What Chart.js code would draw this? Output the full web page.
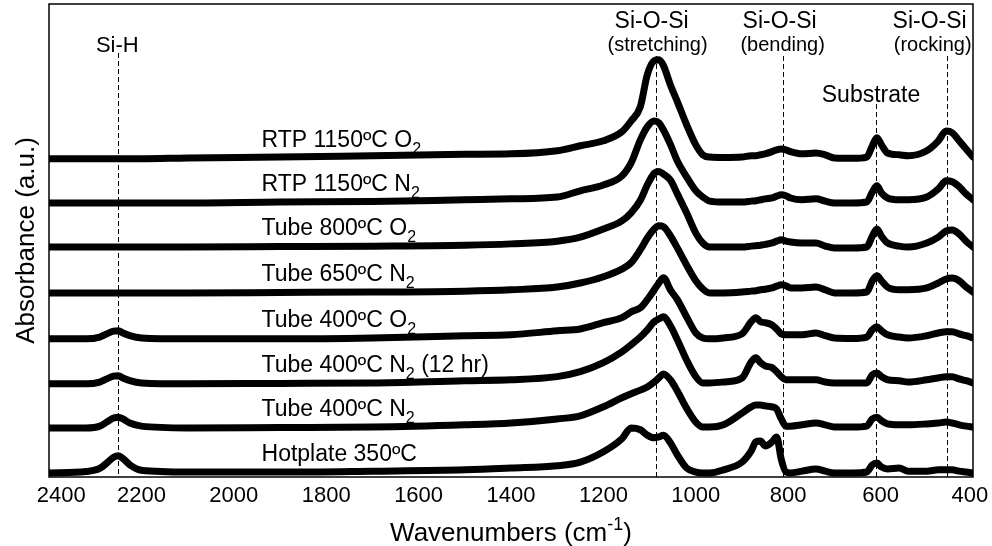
<!DOCTYPE html>
<html>
<head>
<meta charset="utf-8">
<title>FTIR spectra</title>
<script src="https://cdn.jsdelivr.net/npm/chart.js@4.4.1/dist/chart.umd.min.js"></script>
<style>
  html, body { margin: 0; padding: 0; background: #fff; }
  #wrap { width: 992px; height: 546px; }
</style>
</head>
<body>
<div id="wrap"><canvas id="ftirChart" width="992" height="546"></canvas></div>
<script>
//////////////////////////////
// Data
//////////////////////////////

const wavenumbers = [
  2400, 2320, 2290, 2275, 2260, 2250, 2240, 2225, 2200, 2100,
  1900, 1700, 1500, 1400, 1300, 1250, 1200, 1160, 1140, 1120,
  1105, 1090, 1080, 1070, 1055, 1040, 1020, 1000, 985, 970,
  940, 900, 880, 870, 860, 850, 835, 825, 815, 805,
  795, 770, 740, 720, 700, 660, 630, 618, 608, 598,
  585, 560, 540, 500, 475, 458, 445, 430, 415, 400
];

const rtp1150O2 = [
  0, 0, 0, 0, 0, 0, 0, 0, 0, 0.02,
  0.04, 0.07, 0.1, 0.11, 0.18, 0.29, 0.4, 0.6, 0.84, 1.16,
  1.87, 2.18, 2.2, 2.07, 1.64, 1.27, 0.76, 0.31, 0.09, 0.04,
  0.03, 0.04, 0.07, 0.07, 0.09, 0.11, 0.16, 0.2, 0.22, 0.2,
  0.16, 0.11, 0.13, 0.09, 0.02, 0.01, 0.04, 0.29, 0.47, 0.31,
  0.13, 0.09, 0.07, 0.18, 0.4, 0.62, 0.58, 0.4, 0.22, 0.04
];

const rtp1150N2 = [
  0, 0, 0, 0, 0, 0, 0, 0, 0, 0,
  0.02, 0.03, 0.07, 0.09, 0.13, 0.27, 0.4, 0.6, 0.89, 1.4,
  1.69, 1.82, 1.78, 1.62, 1.3, 0.93, 0.58, 0.27, 0.13, 0.04,
  0.02, 0.02, 0.04, 0.05, 0.07, 0.09, 0.11, 0.15, 0.18, 0.16,
  0.11, 0.07, 0.09, 0.04, 0, 0, 0.02, 0.24, 0.38, 0.22,
  0.11, 0.07, 0.07, 0.13, 0.31, 0.49, 0.47, 0.36, 0.2, 0.07
];

const tube800O2 = [
  0, 0, 0, 0, 0, 0, 0, 0, 0, 0,
  0.01, 0.02, 0.04, 0.07, 0.13, 0.22, 0.4, 0.58, 0.76, 1.04,
  1.38, 1.64, 1.68, 1.62, 1.49, 1.18, 0.76, 0.31, 0.09, 0,
  0, 0, 0.02, 0.03, 0.04, 0.06, 0.09, 0.13, 0.16, 0.13,
  0.11, 0.09, 0.09, 0.02, -0.02, -0.02, 0, 0.24, 0.4, 0.24,
  0.09, 0.02, 0, 0.09, 0.22, 0.36, 0.38, 0.29, 0.13, 0
];

const tube650N2 = [
  0, 0, 0, 0, 0, 0, 0, 0, 0, 0,
  0.01, 0.02, 0.04, 0.07, 0.13, 0.22, 0.36, 0.53, 0.67, 0.96,
  1.22, 1.42, 1.49, 1.47, 1.27, 1.0, 0.62, 0.27, 0.09, 0,
  0, 0.02, 0.04, 0.05, 0.07, 0.08, 0.11, 0.15, 0.18, 0.16,
  0.11, 0.11, 0.13, 0.07, 0, 0, 0.02, 0.27, 0.38, 0.27,
  0.13, 0.07, 0.07, 0.11, 0.22, 0.31, 0.33, 0.27, 0.13, 0.02
];

const tube400O2 = [
  0, 0, 0.04, 0.11, 0.17, 0.18, 0.13, 0.07, 0.02, 0,
  0, 0.02, 0.07, 0.09, 0.18, 0.22, 0.36, 0.47, 0.6, 0.69,
  0.87, 1.09, 1.24, 1.36, 1.09, 0.87, 0.49, 0.13, 0.02, 0,
  0.02, 0.11, 0.38, 0.47, 0.38, 0.36, 0.31, 0.22, 0.11, 0.09,
  0.09, 0.09, 0.13, 0.07, 0.02, 0.01, 0.04, 0.2, 0.27, 0.18,
  0.09, 0.04, 0.02, 0.07, 0.13, 0.16, 0.16, 0.11, 0.07, 0.02
];

const tube400N2Long = [
  0, 0, 0.04, 0.11, 0.17, 0.18, 0.13, 0.07, 0.02, 0,
  0.01, 0.02, 0.07, 0.09, 0.16, 0.27, 0.47, 0.71, 0.87, 1.04,
  1.2, 1.38, 1.44, 1.49, 1.29, 0.98, 0.53, 0.16, 0.02, 0.02,
  0.04, 0.13, 0.49, 0.58, 0.47, 0.4, 0.36, 0.27, 0.16, 0.09,
  0.09, 0.09, 0.09, 0.04, 0.02, 0.02, 0.02, 0.2, 0.24, 0.16,
  0.09, 0.07, 0.04, 0.09, 0.13, 0.16, 0.16, 0.11, 0.07, 0.02
];

const tube400N2 = [
  0, 0, 0.04, 0.13, 0.22, 0.24, 0.2, 0.11, 0.04, 0,
  0.01, 0.02, 0.07, 0.11, 0.2, 0.27, 0.47, 0.67, 0.76, 0.84,
  0.91, 1.02, 1.11, 1.2, 1.07, 0.82, 0.44, 0.13, 0.02, 0.02,
  0.07, 0.33, 0.47, 0.51, 0.51, 0.49, 0.47, 0.42, 0.2, 0.04,
  0.04, 0.07, 0.11, 0.07, 0.02, 0.02, 0.04, 0.2, 0.24, 0.16,
  0.09, 0.07, 0.07, 0.09, 0.11, 0.13, 0.11, 0.07, 0.04, 0.02
];

const hotplate350 = [
  0, 0.03, 0.1, 0.22, 0.35, 0.38, 0.32, 0.18, 0.06, 0.02,
  0.02, 0.04, 0.07, 0.11, 0.16, 0.24, 0.47, 0.76, 1.0, 0.96,
  0.84, 0.78, 0.8, 0.84, 0.67, 0.4, 0.11, 0.02, 0, 0,
  0.07, 0.24, 0.49, 0.69, 0.71, 0.6, 0.69, 0.8, 0.3, 0.02,
  0, 0.04, 0.09, 0.04, 0, 0, 0.02, 0.18, 0.22, 0.13,
  0.09, 0.11, 0.04, 0.04, 0.07, 0.07, 0.07, 0.04, 0.02, 0
];

// top to bottom, as stacked in the figure
const seriesNames = [
  "RTP 1150ºC O_{2}",
  "RTP 1150ºC N_{2}",
  "Tube 800ºC O_{2}",
  "Tube 650ºC N_{2}",
  "Tube 400ºC O_{2}",
  "Tube 400ºC N_{2} (12 hr)",
  "Tube 400ºC N_{2}",
  "Hotplate 350ºC"
];
const seriesValues = [
  rtp1150O2, rtp1150N2, tube800O2, tube650N2,
  tube400O2, tube400N2Long, tube400N2, hotplate350
];
const traceOffsets = [7.07, 6.09, 5.11, 4.09, 3.07, 2.07, 1.09, 0.09];

const xTicks = [2400, 2200, 2000, 1800, 1600, 1400, 1200, 1000, 800, 600, 400];

// band assignments (dashed markers)
const bandCenters = [2250, 1087, 812, 610, 457];
const bandNames = [
  ["Si-H"],
  ["Si-O-Si", "(stretching)"],
  ["Si-O-Si", "(bending)"],
  ["Substrate"],
  ["Si-O-Si", "(rocking)"]
];

//////////////////////////////
// Helpers
//////////////////////////////

const FONT = '"Liberation Sans", Arial, Helvetica, sans-serif';

// "O_{2}" -> subscript, "^{-1}" -> superscript
function richParts(text) {
  const parts = [];
  const re = /([_^])\{([^}]*)\}/g;
  let last = 0, m;
  while ((m = re.exec(text)) !== null) {
    if (m.index > last) parts.push({ t: text.slice(last, m.index), k: "" });
    parts.push({ t: m[2], k: m[1] });
    last = re.lastIndex;
  }
  if (last < text.length) parts.push({ t: text.slice(last), k: "" });
  return parts;
}

function drawRich(ctx, text, x, y, size, align) {
  const small = Math.round(size * 0.7);
  const parts = richParts(text);
  let total = 0;
  parts.forEach(p => {
    ctx.font = (p.k ? small : size) + "px " + FONT;
    p.w = ctx.measureText(p.t).width;
    total += p.w;
  });
  let cx = align === "center" ? x - total / 2 : x;
  ctx.textAlign = "left";
  ctx.textBaseline = "alphabetic";
  parts.forEach(p => {
    ctx.font = (p.k ? small : size) + "px " + FONT;
    let dy = 0;
    if (p.k === "_") dy = size * 0.32;
    if (p.k === "^") dy = -size * 0.42;
    ctx.fillText(p.t, cx, y + dy);
    cx += p.w;
  });
}

//////////////////////////////
// Annotation plugin
//////////////////////////////

// label layout per band: dashed line top, label rows [dx, baseline, size]
const bandLayout = [
  { top: 53, rows: [[-1, 52, 22]] },
  { top: 56, rows: [[-4, 28, 23], [2, 51, 20]] },
  { top: 56, rows: [[-3, 28, 23], [0, 51, 20]] },
  { top: 104, rows: [[-5, 102, 23]] },
  { top: 56, rows: [[-17, 28, 23], [-14, 51, 20]] }
];
const LABEL_START = 1940; // wavenumber where the trace labels begin

const annotations = {
  id: "annotations",
  beforeDatasetsDraw(chart) {
    const { ctx, chartArea, scales: { x } } = chart;
    ctx.save();
    ctx.strokeStyle = "#000";
    ctx.lineWidth = 1;
    ctx.setLineDash([5, 3]);
    bandCenters.forEach((w, i) => {
      const px = Math.round(x.getPixelForValue(w)) + 0.5;
      ctx.beginPath();
      ctx.moveTo(px, bandLayout[i].top);
      ctx.lineTo(px, chartArea.bottom);
      ctx.stroke();
    });
    ctx.restore();
  },
  afterDraw(chart) {
    const { ctx, chartArea, scales: { x, y } } = chart;
    ctx.save();
    ctx.fillStyle = "#000";

    // band names
    bandCenters.forEach((w, i) => {
      const px = x.getPixelForValue(w);
      bandNames[i].forEach((name, r) => {
        const [dx, base, size] = bandLayout[i].rows[r];
        drawRich(ctx, name, px + dx, base, size, "center");
      });
    });

    // trace labels
    const lx = x.getPixelForValue(LABEL_START);
    seriesNames.forEach((name, i) => {
      const py = y.getPixelForValue(traceOffsets[i]) - 12;
      drawRich(ctx, name, lx, py, 23, "left");
    });

    // axis titles
    drawRich(ctx, "Wavenumbers (cm^{-1})", (chartArea.left + chartArea.right) / 2, 541, 26, "center");
    ctx.save();
    ctx.translate(34, (chartArea.top + chartArea.bottom) / 2);
    ctx.rotate(-Math.PI / 2);
    drawRich(ctx, "Absorbance (a.u.)", 0, 0, 26, "center");
    ctx.restore();

    // frame
    ctx.strokeStyle = "#000";
    ctx.lineWidth = 1.5;
    ctx.strokeRect(chartArea.left, chartArea.top, chartArea.right - chartArea.left, chartArea.bottom - chartArea.top);
    ctx.restore();
  }
};

//////////////////////////////
// Chart
//////////////////////////////

const datasets = seriesNames.map((name, i) => ({
  label: name.replace(/_\{(\d)\}/g, "$1"),
  data: wavenumbers.map((w, j) => ({ x: w, y: seriesValues[i][j] + traceOffsets[i] })),
  borderColor: "#000",
  borderWidth: 7,
  borderCapStyle: "round",
  borderJoinStyle: "round",
  pointRadius: 0,
  fill: false,
  cubicInterpolationMode: "monotone"
}));

const ctx = document.getElementById("ftirChart").getContext("2d");

new Chart(ctx, {
  type: "line",
  data: { datasets: datasets },
  options: {
    responsive: false,
    animation: false,
    devicePixelRatio: 1,
    layout: { padding: { top: 4, right: 19, left: 0, bottom: 0 } },
    plugins: {
      legend: { display: false },
      tooltip: { enabled: false },
      title: { display: false }
    },
    scales: {
      x: {
        type: "linear",
        reverse: true,
        min: 400,
        max: 2400,
        afterFit: (scale) => {
          scale.height = 69;
          scale.paddingLeft = 0;  // keep the plot box fixed
          scale.paddingRight = 0;
        },
        afterBuildTicks: (scale) => { scale.ticks = xTicks.map(v => ({ value: v })); },
        grid: { display: false, drawTicks: false },
        border: { display: false },
        ticks: {
          padding: 6,
          color: "#000",
          font: { family: FONT, size: 22 },
          maxRotation: 0,
          autoSkip: false,
          // end labels sit pulled inside the frame, as in the original
          callback: (v) => v === 2400 ? "    2400" : v === 400 ? "400 " : String(v)
        }
      },
      y: {
        type: "linear",
        min: 0,
        max: 10.51,
        afterFit: (scale) => { scale.width = 49; },
        grid: { display: false, drawTicks: false },
        border: { display: false },
        ticks: { display: false }
      }
    }
  },
  plugins: [annotations]
});
</script>
</body>
</html>
